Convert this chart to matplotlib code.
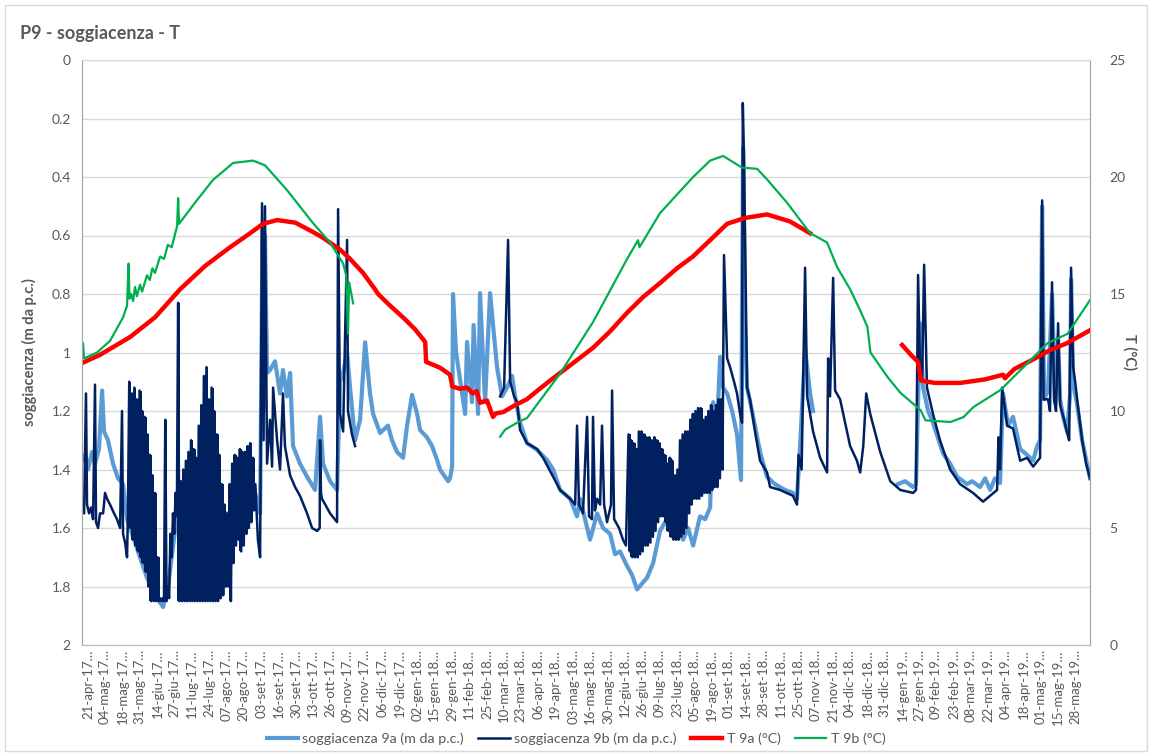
import numpy as np
import pandas as pd
import matplotlib
matplotlib.use('Agg')
import matplotlib.pyplot as plt
import matplotlib.dates as mdates
from matplotlib.patches import Rectangle
from matplotlib.ticker import FuncFormatter

plt.rcParams['font.family'] = ['Lato', 'DejaVu Sans']

start = mdates.date2num(pd.Timestamp('2017-04-21'))   # day 0 of the series

# x axis labels
tick_labels = ['21-apr-17', '04-mag-17', '18-mag-17', '31-mag-17', '14-giu-17', '27-giu-17',
               '11-lug-17', '24-lug-17', '07-ago-17', '20-ago-17', '03-set-17', '16-set-17',
               '30-set-17', '13-ott-17', '26-ott-17', '09-nov-17', '22-nov-17', '06-dic-17',
               '19-dic-17', '02-gen-18', '15-gen-18', '29-gen-18', '11-feb-18', '25-feb-18',
               '10-mar-18', '23-mar-18', '06-apr-18', '19-apr-18', '03-mag-18', '16-mag-18',
               '30-mag-18', '12-giu-18', '26-giu-18', '09-lug-18', '23-lug-18', '05-ago-18',
               '19-ago-18', '01-set-18', '14-set-18', '28-set-18', '11-ott-18', '25-ott-18',
               '07-nov-18', '21-nov-18', '04-dic-18', '18-dic-18', '31-dic-18', '14-gen-19',
               '27-gen-19', '09-feb-19', '23-feb-19', '08-mar-19', '22-mar-19', '04-apr-19',
               '18-apr-19', '01-mag-19', '15-mag-19', '28-mag-19']
mesi = {'gen': 1, 'feb': 2, 'mar': 3, 'apr': 4, 'mag': 5, 'giu': 6,
        'lug': 7, 'ago': 8, 'set': 9, 'ott': 10, 'nov': 11, 'dic': 12}

# ---- soggiacenza 9a (m da p.c.), days from start ----
s9a_d1 = [-4.7, -2.3, 0, 3.1, 5.4, 8.5, 10.9, 12.4, 15.5, 19.4, 23.3, 27.2, 30.3, 36.5, 45.8,
          53.6, 58.3, 62.2, 69.2, 79.3, 90.9, 102.6, 114.2, 125.9, 129.8, 133.7, 135.6, 136.8,
          137.5, 139.1, 141.4, 145.3, 149.2, 151.5, 154.6, 157.0, 159.3, 164.7, 170.2, 176.4,
          180.3, 182.6, 188.1, 193.5, 195.8, 198.2, 201.3, 203.6, 207.5, 211.4, 215.3, 219.1,
          221.5, 226.9, 233.1, 236.2, 240.1, 244.8, 247.9, 251.8, 255.7, 258.0, 263.4, 267.3,
          271.2, 273.5, 279.8, 281.3, 282.9, 283.6, 286.0, 289.1, 293.0, 294.5, 298.4, 299.6,
          303.1, 304.6, 308.5, 312.4, 317.8, 321.7, 325.6, 329.5, 331.8, 335.7, 341.1, 348.9,
          356.7, 361.4, 366.8, 374.6, 380.0, 382.3, 390.1, 395.6, 400.2, 405.7, 409.5, 413.4,
          418.9, 422.7, 426.6, 430.5, 434.4, 439.1, 444.5, 448.4, 452.3, 457.8, 462.4, 466.3,
          470.2, 475.6, 479.5, 483.4, 485.7, 488.8, 491.2, 493.5, 496.6, 500.5, 504.3, 507.4,
          509.0, 510.5, 512.1, 516.0, 522.2, 527.6, 533.8, 541.6, 547.8, 550.9, 553.3, 557.2,
          558.8, 561.1, 563.4]
s9a_v1 = [1.37, 1.35, 1.40, 1.34, 1.38, 1.33, 1.13, 1.27, 1.30, 1.38, 1.43, 1.45, 1.57, 1.65, 1.77,
          1.84, 1.87, 1.80, 1.55, 1.50, 1.45, 1.55, 1.55, 1.45, 1.48, 1.55, 0.58, 1.20,
          0.60, 1.07, 1.06, 1.03, 1.14, 1.06, 1.15, 1.07, 1.32, 1.38, 1.425, 1.47,
          1.22, 1.38, 1.44, 1.47, 1.10, 1.07, 1.00, 1.12, 1.30, 1.23, 0.965, 1.14,
          1.21, 1.275, 1.25, 1.30, 1.34, 1.36, 1.25, 1.145, 1.21, 1.265, 1.29, 1.32,
          1.367, 1.40, 1.44, 1.43, 1.39, 0.80, 1.00, 1.094, 1.21, 0.964, 1.17, 0.906,
          1.21, 0.797, 1.17, 0.797, 1.05, 1.15, 1.12, 1.08, 1.15, 1.24, 1.31, 1.333,
          1.368, 1.40, 1.47, 1.50, 1.56, 1.50, 1.64, 1.55, 1.60, 1.62, 1.69, 1.68,
          1.73, 1.76, 1.81, 1.79, 1.77, 1.72, 1.61, 1.58, 1.56, 1.60, 1.64, 1.60,
          1.66, 1.56, 1.57, 1.53, 1.17, 1.25, 1.015, 1.12, 1.14, 1.20, 1.28, 1.436,
          0.30, 0.90, 1.12, 1.20, 1.34, 1.425, 1.45, 1.47, 1.48, 1.50, 1.32, 0.99,
          1.05, 1.14, 1.20]
s9a_d2 = [629.4, 634.9, 641.1, 643.4, 646.5, 648.9, 652.8, 656.6, 664.4, 669.9, 675.3, 683.1,
          687.0, 693.2, 697.1, 701.0, 704.8, 708.7, 711.0, 714.9, 718.8, 724.3, 729.7, 734.4,
          737.5, 739.8, 741.4, 742.9, 746.0, 749.1, 751.5, 753.8, 755.4, 757.7, 760.8, 763.2,
          763.9, 765.5, 768.6, 772.5, 777.2, 778.6]
s9a_v2 = [1.45, 1.44, 1.46, 1.45, 0.90, 1.12, 1.20, 1.24, 1.345, 1.38, 1.425, 1.45,
          1.44, 1.46, 1.43, 1.47, 1.43, 1.446, 1.14, 1.25, 1.22, 1.33, 1.35, 1.37,
          1.32, 1.30, 0.50, 1.16, 1.13, 0.80, 1.17, 0.95, 1.16, 1.22, 1.27, 1.14,
          0.75, 1.10, 1.18, 1.30, 1.40, 1.43]

# ---- soggiacenza 9b (m da p.c.) ----
s9b_d1 = [-4.7, -3.1, -1.6, -0.8, 0.8, 2.3, 3.9, 5.4, 6.2, 7.8, 9.3, 11.7, 13.2, 14.8, 17.1,
          20.2, 22.5, 24.9, 26.4, 27.2, 28.8, 30.3, 31.0]
s9b_v1 = [1.53, 1.55, 1.14, 1.52, 1.55, 1.53, 1.57, 1.11, 1.58, 1.60, 1.55, 1.55, 1.48, 1.50, 1.52,
          1.55, 1.57, 1.60, 1.20, 1.62, 1.65, 1.70, 1.55]
# daily oscillation summer 2017: upper / lower reading every 2 days
band17_d = np.arange(32, 130, 2)
band17_top = [1.10, 1.14, 1.12, 1.16, 1.13, 1.20, 1.22, 1.28, 1.35, 1.42, 1.48, 1.70, 1.84, 1.84,
              1.23, 1.80, 1.62, 1.55, 1.48, 0.83, 1.44, 1.40, 1.37, 1.34, 1.30, 1.33, 1.36, 1.25,
              1.18, 1.08, 1.05, 1.16, 1.12, 1.20, 1.28, 1.35, 1.45, 1.52, 1.55, 1.45, 1.38, 1.35,
              1.36, 1.33, 1.34, 1.34, 1.32, 1.31, 1.36]
band17_bot = [1.60, 1.64, 1.66, 1.68, 1.70, 1.72, 1.75, 1.80, 1.85, 1.85, 1.85, 1.85, 1.85, 1.85,
              1.85, 1.84, 1.70, 1.62, 1.56, 1.85, 1.85, 1.85, 1.85, 1.85, 1.85, 1.85, 1.85, 1.85,
              1.85, 1.85, 1.85, 1.85, 1.85, 1.85, 1.85, 1.84, 1.83, 1.80, 1.80, 1.85, 1.72, 1.66,
              1.64, 1.68, 1.66, 1.62, 1.60, 1.58, 1.54]
s9b_d2 = [130.0, 132.0, 133.7, 135.2, 136.4, 137.5, 139.1, 141.4, 143.0, 143.8, 146.9, 149.2,
          151.5, 153.0, 157.0, 160.9, 164.7, 170.2, 174.1, 178.0, 180.0, 180.3, 181.0, 181.8,
          188.1, 193.5, 194.3, 195.8, 198.2, 201.3, 202.0, 205.1, 207.5]
s9b_v2 = [1.45, 1.64, 1.70, 0.49, 1.30, 0.50, 1.38, 1.23, 1.39, 1.12, 1.30, 1.40,
          1.14, 1.32, 1.42, 1.46, 1.49, 1.55, 1.60, 1.61, 1.60, 1.30, 1.48, 1.50,
          1.55, 1.58, 0.51, 1.21, 1.27, 0.615, 1.20, 1.28, 1.32]
s9b_d3 = [320.2, 323.3, 326.4, 328.0, 331.1, 333.4, 335.7, 341.1, 348.9, 353.6, 361.4, 366.8,
          374.6, 378.5, 380.0, 381.5, 384.6, 387.8, 389.3, 391.6, 392.4, 393.9, 395.6, 397.9,
          399.4, 401.0, 403.3, 406.4, 407.2, 408.8, 412.6, 415.7, 418.0]
s9b_v3 = [1.15, 1.12, 0.615, 1.10, 1.15, 1.17, 1.265, 1.31, 1.33, 1.36, 1.425, 1.47,
          1.50, 1.52, 1.25, 1.52, 1.55, 1.22, 1.56, 1.57, 1.22, 1.54, 1.50, 1.52,
          1.25, 1.52, 1.58, 1.52, 1.13, 1.57, 1.60, 1.64, 1.66]
# daily oscillation summer 2018
band18_d = np.arange(420, 494, 2)
band18_top = [1.28, 1.30, 1.31, 1.33, 1.27, 1.27, 1.28, 1.29, 1.29, 1.30, 1.29, 1.30, 1.31, 1.33,
              1.35, 1.38, 1.36, 1.37, 1.42, 1.40, 1.30, 1.28, 1.27, 1.27, 1.23, 1.21, 1.20, 1.19,
              1.19, 1.23, 1.22, 1.20, 1.18, 1.20, 1.18, 1.16, 1.16]
band18_bot = [1.68, 1.70, 1.70, 1.70, 1.69, 1.68, 1.66, 1.66, 1.65, 1.63, 1.61, 1.58, 1.56, 1.56,
              1.58, 1.61, 1.63, 1.64, 1.64, 1.64, 1.63, 1.62, 1.60, 1.55, 1.52, 1.50, 1.50, 1.50,
              1.49, 1.48, 1.48, 1.48, 1.47, 1.46, 1.46, 1.43, 1.40]
s9b_d4 = [494.2, 496.6, 498.9, 502.0, 504.3, 506.7, 508.2, 508.8, 509.8, 512.1, 514.4, 518.3,
          522.2, 527.6, 530.0, 537.8, 547.8, 550.9, 552.1, 554.5, 557.2, 558.8, 563.4, 568.9,
          574.3, 575.1, 576.6, 579.0, 580.5, 584.4, 592.2, 597.5, 600.0, 602.4, 604.7, 607.8,
          615.6, 623.4, 631.2, 641.1, 643.4, 645.0, 646.5, 648.1, 649.7, 651.9, 656.6, 662.0,
          669.9, 677.6, 687.7, 695.5, 701.0, 706.4, 707.5, 708.7, 710.3, 714.2, 718.8, 724.3,
          729.7, 734.4, 739.8, 741.4, 742.5, 746.0, 747.5, 749.1, 750.7, 752.2, 753.8, 755.4,
          758.5, 760.8, 762.4, 763.9, 765.5, 767.1, 768.6, 772.5, 775.6, 778.6]
s9b_v4 = [0.667, 1.02, 1.05, 1.10, 1.14, 1.21, 1.24, 0.147, 0.35, 1.12, 1.16, 1.27,
          1.37, 1.41, 1.46, 1.47, 1.49, 1.52, 1.35, 1.40, 0.71, 1.15, 1.27, 1.36,
          1.41, 1.02, 1.15, 0.745, 1.13, 1.16, 1.32, 1.37, 1.41, 1.32, 1.14, 1.21,
          1.34, 1.44, 1.47, 1.48, 1.47, 0.735, 1.05, 1.10, 0.70, 1.12, 1.21, 1.30,
          1.40, 1.45, 1.48, 1.51, 1.49, 1.47, 1.29, 1.40, 1.12, 1.25, 1.26, 1.37,
          1.36, 1.39, 1.36, 0.48, 1.16, 1.16, 1.20, 0.76, 1.16, 1.20, 0.90, 1.18,
          1.23, 1.275, 1.30, 0.71, 1.05, 1.10, 1.16, 1.30, 1.38, 1.43]

# ---- T 9a (°C) ----
t9a_d1 = [-4.7, 9.3, 32.6, 52.0, 71.5, 91.0, 110.4, 126.0, 136.0, 146.9, 161.0, 174.8, 182.6,
          195.8, 203.6, 213.7, 223.0, 225.4, 234.7, 244.8, 254.0, 262.0, 262.7, 273.5, 281.3,
          283.0, 289.0, 294.5, 299.0, 302.0, 304.6, 310.0, 314.7, 317.0, 322.5, 331.8, 341.0,
          351.0, 359.0, 374.6, 392.4, 405.6, 418.9, 431.3, 444.5, 457.7, 470.0, 483.4, 496.6,
          510.5, 527.6, 545.5, 561.0]
t9a_v1 = [12.05, 12.4, 13.16, 14.0, 15.2, 16.2, 17.0, 17.6, 18.0, 18.16, 18.05, 17.65, 17.4,
          16.9, 16.5, 15.9, 15.2, 15.0, 14.5, 14.0, 13.5, 12.95, 12.1, 11.85, 11.55,
          11.05, 10.95, 11.0, 10.75, 10.85, 10.35, 10.45, 9.75, 9.9, 9.95, 10.25, 10.5,
          10.95, 11.3, 11.95, 12.7, 13.4, 14.2, 14.87, 15.47, 16.1, 16.6, 17.3, 18.0,
          18.25, 18.4, 18.1, 17.6]
t9a_d2 = [632.6, 640.3, 645.0, 647.3, 658.0, 677.6, 697.0, 711.0, 712.5, 720.0, 734.3, 747.5,
          760.8, 778.6]
t9a_v2 = [12.82, 12.35, 12.1, 11.3, 11.2, 11.2, 11.35, 11.55, 11.4, 11.8, 12.2, 12.6,
          12.9, 13.45]

# ---- T 9b (°C) ----
t9b_d1 = [-4.7, -3.9, -3.1, 7.0, 17.1, 27.2, 30.3, 31.5, 32.2, 33.5, 35.0, 36.5, 38.0, 40.4,
          42.0, 45.8, 48.0, 50.0, 52.0, 56.0, 59.0, 62.0, 65.0, 69.2, 70.0, 70.7, 83.1, 97.0,
          112.7, 128.2, 137.5, 154.6, 174.8, 188.1, 198.2, 200.6, 202.0, 202.9, 206.0]
t9b_v1 = [12.2, 12.9, 12.25, 12.5, 13.0, 14.0, 14.5, 16.3, 14.8, 15.0, 14.7, 15.3, 14.9, 15.4,
          15.1, 15.8, 15.6, 16.1, 15.9, 16.6, 16.5, 17.1, 17.0, 17.9, 19.1, 18.0, 18.9, 19.87,
          20.6, 20.7, 20.5, 19.44, 18.03, 17.2, 16.3, 15.8, 13.3, 15.5, 14.6]
t9b_d2 = [320.2, 324.0, 333.4, 341.1, 366.8, 392.4, 418.9, 427.4, 428.5, 444.5, 470.2, 483.4,
          493.5, 508.2, 519.9, 527.6, 543.2, 561.1, 574.3, 582.1, 592.2, 600.0, 605.6, 608.0,
          621.3, 631.4, 646.9, 650.8, 670.2, 680.3, 688.1, 709.1, 734.7, 745.6, 761.2, 778.6]
t9b_v2 = [8.9, 9.2, 9.5, 9.7, 11.6, 13.8, 16.5, 17.3, 17.0, 18.46, 20.0, 20.7,
          20.9, 20.4, 20.35, 19.9, 18.9, 17.6, 17.2, 16.15, 15.2, 14.3, 13.6, 12.5,
          11.45, 10.77, 10.04, 9.6, 9.53, 9.74, 10.17, 10.9, 12.3, 12.9, 13.3, 14.74]


def zigzag(days, top, bottom):
    # one upper and one lower reading per step
    days = np.asarray(days, float)
    return (list(np.column_stack([days, days + 1]).ravel()),
            list(np.column_stack([top, bottom]).ravel()))


def join(*parts):
    # separate the parts with a gap (NaN)
    xs, ys = [], []
    for d, v in parts:
        xs += list(d) + [d[-1]]
        ys += list(v) + [np.nan]
    return start + np.array(xs, float), np.array(ys, float)


z17 = zigzag(band17_d, band17_top, band17_bot)
z18 = zigzag(band18_d, band18_top, band18_bot)

x9a, y9a = join((s9a_d1, s9a_v1), (s9a_d2, s9a_v2))
x9b, y9b = join((s9b_d1 + z17[0] + s9b_d2, s9b_v1 + z17[1] + s9b_v2),
                (s9b_d3 + z18[0] + s9b_d4, s9b_v3 + z18[1] + s9b_v4))
xt9a, yt9a = join((t9a_d1, t9a_v1), (t9a_d2, t9a_v2))
xt9b, yt9b = join((t9b_d1, t9b_v1), (t9b_d2, t9b_v2))

grey = '#595959'
navy = '#002060'
fig = plt.figure(figsize=(11.52, 7.56), dpi=100)
ax = fig.add_axes([82 / 1152, 1 - 645 / 756, 1008 / 1152, 585 / 756])
ax2 = ax.twinx()

l1, = ax.plot(x9a, y9a, color='#5B9BD5', lw=3.0, solid_joinstyle='round')
# the daily swings are too dense to separate: a solid block for each 2-day range
for bd, bt, bb in ((band17_d, band17_top, band17_bot), (band18_d, band18_top, band18_bot)):
    bt = np.asarray(bt)
    bb = np.asarray(bb)
    ax.bar(start + bd + 0.5, bb - bt, bottom=bt, width=2.1, color=navy, lw=0, zorder=2.1)
l2, = ax.plot(x9b, y9b, color=navy, lw=1.8, solid_joinstyle='round', zorder=2.2)
l3, = ax2.plot(xt9a, yt9a, color='#FF0000', lw=3.2)
l4, = ax2.plot(xt9b, yt9b, color='#00B050', lw=1.6)

ax.set_ylim(2, 0)
ax.set_yticks(np.arange(0, 2.01, 0.2))
ax.yaxis.set_major_formatter(FuncFormatter(lambda v, p: f'{v:g}'))
ax2.set_ylim(0, 25)
ax2.set_yticks(range(0, 26, 5))
ax.set_xlim(start - 4.7, start + 778.6)

tick_pos = []
for lab in tick_labels:
    g, m, a = lab.split('-')
    tick_pos.append(mdates.date2num(pd.Timestamp(2000 + int(a), mesi[m], int(g))))
ax.set_xticks(tick_pos)
ax.set_xticklabels([lab + '…' for lab in tick_labels], rotation=90, fontsize=9.5, color=grey)

ax.yaxis.grid(True, color='#D9D9D9', lw=1)
ax.set_axisbelow(True)
for a in (ax, ax2):
    a.spines['top'].set_color('#D9D9D9')
    a.spines['left'].set_color('#A6A6A6')
    a.spines['right'].set_color('#A6A6A6')
    a.spines['bottom'].set_color('#BFBFBF')
ax.tick_params(axis='y', length=0, labelsize=10, labelcolor=grey, pad=8)
ax2.tick_params(axis='y', length=0, labelsize=10, labelcolor=grey, pad=14)
ax.tick_params(axis='x', length=0, pad=3)

ax.set_ylabel('soggiacenza (m da p.c.)', fontsize=10.5, fontweight='bold', color=grey, labelpad=10)
ax2.set_ylabel('T (°C)', fontsize=10.5, fontweight='bold', color=grey, rotation=270, labelpad=8)

fig.text(20 / 1152, 1 - 33 / 756, 'P9 - soggiacenza - T', fontsize=13, fontweight='bold',
         color=grey, va='center', ha='left')
fig.patches.append(Rectangle((5 / 1152, 5 / 756), 1142 / 1152, 746 / 756, transform=fig.transFigure,
                             fill=False, ec='#D9D9D9', lw=1))

fig.legend([l1, l2, l3, l4],
           ['soggiacenza 9a (m da p.c.)', 'soggiacenza 9b (m da p.c.)', 'T 9a (°C)', 'T 9b (°C)'],
           loc='center', bbox_to_anchor=(0.5, 1 - 739 / 756), ncol=4, frameon=False,
           fontsize=10.3, handlelength=2.2, handletextpad=0.3, columnspacing=1.0, labelcolor=grey)

fig.savefig('out.png', dpi=100)
